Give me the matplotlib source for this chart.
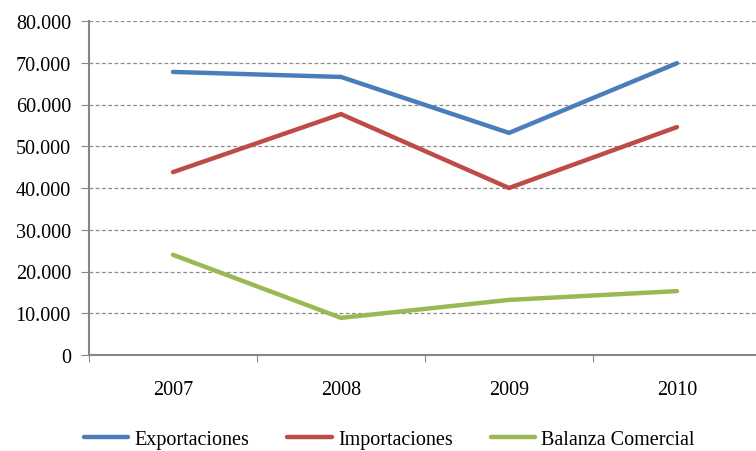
import matplotlib
matplotlib.use("Agg")
import matplotlib.pyplot as plt
from matplotlib.ticker import FuncFormatter

years = ["2007", "2008", "2009", "2010"]
exportaciones = [67800, 66600, 53200, 69900]
importaciones = [43800, 57700, 40000, 54600]
balanza = [24000, 8900, 13200, 15300]

plt.rcParams["font.family"] = ["Liberation Serif", "DejaVu Serif"]

fig = plt.figure(figsize=(7.56, 4.52), dpi=100)
# plot area runs a little past the right edge, as in the original
ax = fig.add_axes([89 / 756, 1 - 356 / 452, 672 / 756, 334 / 452])

x = [0.5, 1.5, 2.5, 3.5]
ax.plot(x, exportaciones, color="#4A7EBB", lw=3.2, solid_capstyle="round", label="Exportaciones")
ax.plot(x, importaciones, color="#BE4B48", lw=3.2, solid_capstyle="round", label="Importaciones")
ax.plot(x, balanza, color="#98B954", lw=3.2, solid_capstyle="round", label="Balanza Comercial")

ax.set_xlim(0, 4)
ax.set_ylim(0, 80000)
ax.set_yticks(range(0, 80001, 10000))
ax.yaxis.set_major_formatter(FuncFormatter(lambda v, p: "0" if v == 0 else f"{int(v):,}".replace(",", ".")))
ax.set_xticks([0, 1, 2, 3, 4])
ax.set_xticklabels([])
ax.set_xticks(x, minor=True)
ax.set_xticklabels(years, minor=True)
ax.tick_params(axis="x", which="minor", length=0, pad=18, labelsize=14.5)
ax.tick_params(axis="x", which="major", length=5, color="#868686")
ax.tick_params(axis="y", length=6, color="#868686", labelsize=14.5, pad=7)

ax.grid(axis="y", color="#8c8c8c", linestyle=(0, (3, 2)), lw=0.9)
for s in ["top", "right"]:
    ax.spines[s].set_visible(False)
for s in ["left", "bottom"]:
    ax.spines[s].set_color("#868686")
    ax.spines[s].set_linewidth(1.5)
ax.set_axisbelow(True)

fig.legend(loc="lower center", bbox_to_anchor=(0.515, -0.035), ncol=3, frameon=False,
           fontsize=14.5, handlelength=2.2, handletextpad=0.3, columnspacing=1.9)

fig.savefig("out.png", dpi=100)
